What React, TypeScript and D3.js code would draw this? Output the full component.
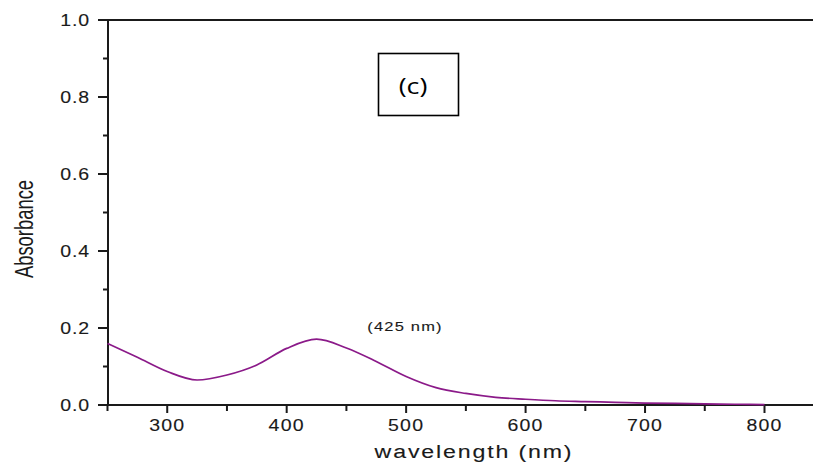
import React, { useEffect, useRef } from "react";
import * as d3 from "d3";

// spectrum
const wavelengths = [250, 275, 300, 325, 350, 375, 400, 425, 450, 475, 500, 525, 550, 575, 600, 625, 650, 675, 700, 725, 750, 775, 800];
const absorbance = [0.16, 0.124, 0.087, 0.065, 0.078, 0.104, 0.147, 0.171, 0.148, 0.113, 0.074, 0.045, 0.03, 0.02, 0.015, 0.011, 0.009, 0.007, 0.005, 0.004, 0.003, 0.002, 0.001];

const xMajor = [300, 400, 500, 600, 700, 800];
const xMinor = [250, 350, 450, 550, 650, 750];
const yMajor = [0, 0.2, 0.4, 0.6, 0.8, 1.0];
const yMinor = [0.1, 0.3, 0.5, 0.7, 0.9];

const W = 813, H = 464;
const SX = 1.22; // the original looks stretched sideways

export default function App() {
  const svgRef = useRef<SVGSVGElement>(null);

  useEffect(() => {
    const svg = d3.select(svgRef.current);
    svg.selectAll("*").remove();

    const left = 108, top = 20, bottom = 405;
    const x = d3.scaleLinear().domain([250, 800]).range([107.5, 764.5]);
    const y = d3.scaleLinear().domain([0, 1]).range([bottom, top]);
    const ink = "#1a1a1a";
    const font = "'Liberation Sans', Arial, sans-serif";

    const label = (tx: number, ty: number, txt: string, size: number, anchor: string, ls: number) =>
      svg.append("text")
        .attr("transform", `translate(${tx},${ty}) scale(${SX},1)`)
        .attr("text-anchor", anchor)
        .attr("font-family", font).attr("font-size", size).attr("letter-spacing", ls)
        .attr("fill", ink).attr("stroke", ink).attr("stroke-width", 0.12)
        .text(txt);

    // frame lines
    svg.append("line").attr("x1", left - 10).attr("x2", W).attr("y1", top).attr("y2", top)
      .attr("stroke", ink).attr("stroke-width", 2);
    svg.append("line").attr("x1", left).attr("x2", left).attr("y1", top).attr("y2", bottom)
      .attr("stroke", ink).attr("stroke-width", 2);
    svg.append("line").attr("x1", left).attr("x2", W).attr("y1", bottom).attr("y2", bottom)
      .attr("stroke", ink).attr("stroke-width", 2);

    // y ticks
    yMajor.forEach(v => {
      svg.append("line").attr("x1", left - 10).attr("x2", left).attr("y1", y(v)).attr("y2", y(v))
        .attr("stroke", ink).attr("stroke-width", 2);
      label(90, y(v) + 6, v.toFixed(1), 16, "end", 0.7);
    });
    yMinor.forEach(v => {
      svg.append("line").attr("x1", left - 5).attr("x2", left).attr("y1", y(v)).attr("y2", y(v))
        .attr("stroke", ink).attr("stroke-width", 2);
    });

    // x ticks
    xMajor.forEach(v => {
      svg.append("line").attr("x1", x(v)).attr("x2", x(v)).attr("y1", bottom).attr("y2", bottom + 8)
        .attr("stroke", ink).attr("stroke-width", 2);
      label(x(v), 431, String(v), 16, "middle", 1);
    });
    xMinor.forEach(v => {
      svg.append("line").attr("x1", x(v)).attr("x2", x(v)).attr("y1", bottom).attr("y2", bottom + 6)
        .attr("stroke", ink).attr("stroke-width", 2);
    });

    // curve
    const line = d3.line<number>()
      .x((d, i) => x(wavelengths[i]))
      .y(d => y(d))
      .curve(d3.curveMonotoneX);
    svg.append("path").datum(absorbance).attr("d", line).attr("fill", "none")
      .attr("stroke", "#8b1a89").attr("stroke-width", 1.7);

    // axis titles
    label(474, 458, "wavelength (nm)", 19, "middle", 1.5);
    svg.append("text").attr("transform", "translate(32.5,229) rotate(-90) scale(1,1.45)").attr("text-anchor", "middle")
      .attr("font-family", font).attr("font-size", 18.4).attr("fill", ink)
      .text("Absorbance");

    // peak label
    label(405, 331, "(425 nm)", 13.5, "middle", 1);

    // panel box
    svg.append("rect").attr("x", 378.5).attr("y", 53.5).attr("width", 80).attr("height", 62)
      .attr("fill", "none").attr("stroke", "#000").attr("stroke-width", 1.6);
    svg.append("text").attr("transform", `translate(413,94) scale(${SX},1)`).attr("text-anchor", "middle")
      .attr("font-family", "'Open Sans', Calibri, sans-serif").attr("font-size", 22).attr("fill", "#000")
      .text("(c)");
  }, []);

  return (
    <svg ref={svgRef} width={W} height={H}
      style={{ position: "absolute", left: 0, top: 0, background: "#fff" }} />
  );
}
